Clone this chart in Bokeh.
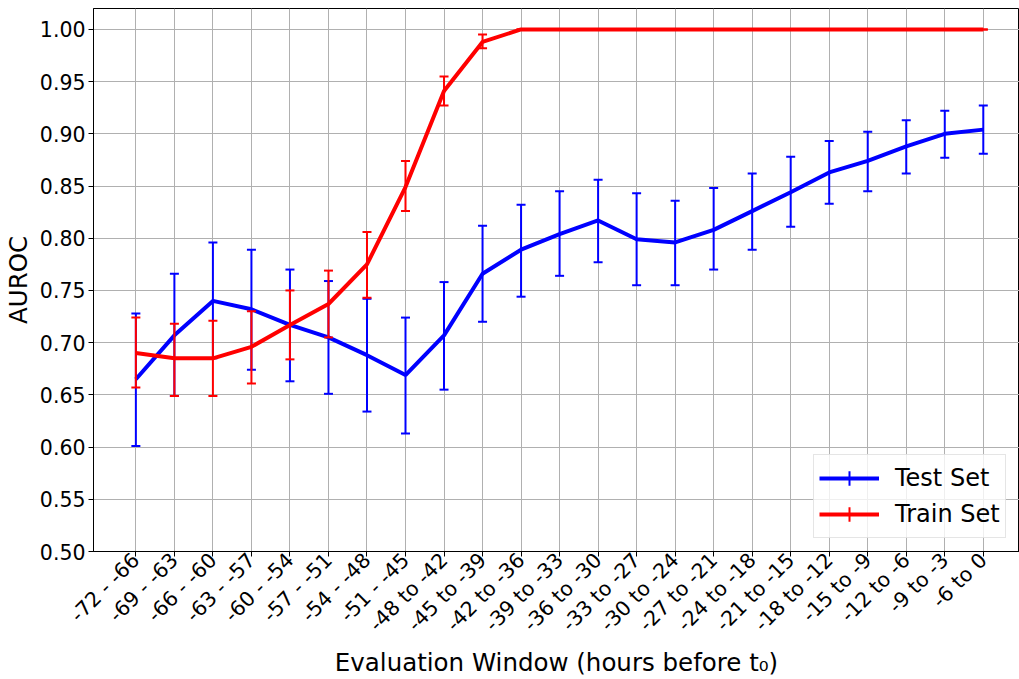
import math
from bokeh.plotting import figure
from bokeh.models import Range1d, FixedTicker, NumeralTickFormatter, Legend, LegendItem, ColumnDataSource
from bokeh.embed import file_html
from bokeh.resources import INLINE

windows = ["-72 - -66", "-69 - -63", "-66 - -60", "-63 - -57", "-60 - -54", "-57 - -51",
           "-54 - -48", "-51 - -45", "-48 to -42", "-45 to -39", "-42 to -36", "-39 to -33",
           "-36 to -30", "-33 to -27", "-30 to -24", "-27 to -21", "-24 to -18", "-21 to -15",
           "-18 to -12", "-15 to -9", "-12 to -6", "-9 to -3", "-6 to 0"]

test_mean = [0.665, 0.707, 0.740, 0.732, 0.717, 0.705, 0.688, 0.669, 0.707, 0.766, 0.789, 0.804,
             0.817, 0.799, 0.796, 0.808, 0.826, 0.844, 0.863, 0.874, 0.888, 0.900, 0.904]
test_lower = [0.601, 0.649, 0.685, 0.674, 0.663, 0.651, 0.634, 0.613, 0.655, 0.720, 0.744, 0.764,
              0.777, 0.755, 0.755, 0.770, 0.789, 0.811, 0.833, 0.845, 0.862, 0.877, 0.881]
test_upper = [0.728, 0.766, 0.796, 0.789, 0.770, 0.759, 0.742, 0.724, 0.758, 0.812, 0.832, 0.845,
              0.856, 0.843, 0.836, 0.848, 0.862, 0.878, 0.893, 0.902, 0.913, 0.922, 0.927]

train_mean = [0.690, 0.685, 0.685, 0.696, 0.717, 0.737, 0.775, 0.849, 0.941, 0.988, 1.0, 1.0,
              1.0, 1.0, 1.0, 1.0, 1.0, 1.0, 1.0, 1.0, 1.0, 1.0, 1.0]
train_lower = [0.657, 0.649, 0.649, 0.661, 0.684, 0.705, 0.743, 0.826, 0.927, 0.982, 1.0, 1.0,
               1.0, 1.0, 1.0, 1.0, 1.0, 1.0, 1.0, 1.0, 1.0, 1.0, 1.0]
train_upper = [0.724, 0.718, 0.721, 0.730, 0.750, 0.769, 0.806, 0.874, 0.955, 0.995, 1.0, 1.0,
               1.0, 1.0, 1.0, 1.0, 1.0, 1.0, 1.0, 1.0, 1.0, 1.0, 1.0]

y_ticks = [0.50, 0.55, 0.60, 0.65, 0.70, 0.75, 0.80, 0.85, 0.90, 0.95, 1.00]

FONT = "DejaVu Sans"
xs = list(range(len(windows)))

p = figure(width=1019, height=679, output_backend="svg", toolbar_location=None,
           x_range=Range1d(-1.1, 22.94), y_range=Range1d(0.5, 1.02),
           min_border_left=93, min_border_right=0, min_border_top=8, min_border_bottom=126)
p.background_fill_color = "white"
p.border_fill_color = "white"
p.outline_line_color = "black"
p.outline_line_width = 1

# grid
p.xgrid.ticker = FixedTicker(ticks=xs)
p.ygrid.ticker = FixedTicker(ticks=y_ticks)
for g in (p.xgrid, p.ygrid):
    g.grid_line_color = "#b0b0b0"
    g.grid_line_width = 1
    g.grid_line_alpha = 1.0

# axes
p.xaxis.ticker = FixedTicker(ticks=xs)
p.xaxis.major_label_overrides = {i: w for i, w in zip(xs, windows)}
p.xaxis.major_label_orientation = math.pi / 4
p.yaxis.ticker = FixedTicker(ticks=y_ticks)
p.yaxis.formatter = NumeralTickFormatter(format="0.00")
for ax in (p.xaxis, p.yaxis):
    ax.axis_line_color = "black"
    ax.major_tick_line_color = "black"
    ax.major_tick_out = 5
    ax.major_tick_in = 0
    ax.minor_tick_line_color = None
    ax.major_label_text_font = FONT
    ax.major_label_text_font_size = "20.5px"
    ax.major_label_text_color = "black"
    ax.axis_label_text_font = FONT
    ax.axis_label_text_font_size = "24.5px"
    ax.axis_label_text_font_style = "normal"
    ax.axis_label_text_color = "black"
p.xaxis.axis_label = "Evaluation Window (hours before t\u2080)"
p.yaxis.axis_label = "AUROC"
p.xaxis.major_label_standoff = 0
p.xaxis.axis_label_standoff = 0
p.yaxis.major_label_standoff = 3
p.yaxis.axis_label_standoff = 4


def series(mean, lower, upper, color):
    src = ColumnDataSource(dict(x=xs, mean=mean, lower=lower, upper=upper, zero=[0] * len(xs)))
    p.segment(x0="x", y0="lower", x1="x", y1="upper", source=src, line_color=color, line_width=2)
    p.scatter(x="x", y="upper", source=src, marker="dash", size=9, line_color=color, line_width=2)
    p.scatter(x="x", y="lower", source=src, marker="dash", size=9, line_color=color, line_width=2)
    ln = p.line(x="x", y="mean", source=src, line_color=color, line_width=4)
    mk = p.scatter(x="x", y="mean", size="zero", source=src, marker="cross",
                   line_color=color, line_width=2, fill_color=None)
    return ln, mk


t_ln, t_mk = series(test_mean, test_lower, test_upper, "#0000ff")
r_ln, r_mk = series(train_mean, train_lower, train_upper, "#ff0000")

legend = Legend(items=[LegendItem(label="Test Set", renderers=[t_ln, t_mk]),
                       LegendItem(label="Train Set", renderers=[r_ln, r_mk])],
                location=(720, 13))
legend.label_text_font = FONT
legend.label_text_font_size = "24px"
legend.label_text_color = "black"
legend.glyph_width = 60
legend.glyph_height = 36
legend.label_height = 30
legend.spacing = 0
legend.padding = 5
legend.label_standoff = 16
legend.border_line_color = "#cccccc"
legend.border_line_width = 1
legend.background_fill_alpha = 0.8
p.add_layout(legend)

open("out.html", "w").write(file_html(p, INLINE))
